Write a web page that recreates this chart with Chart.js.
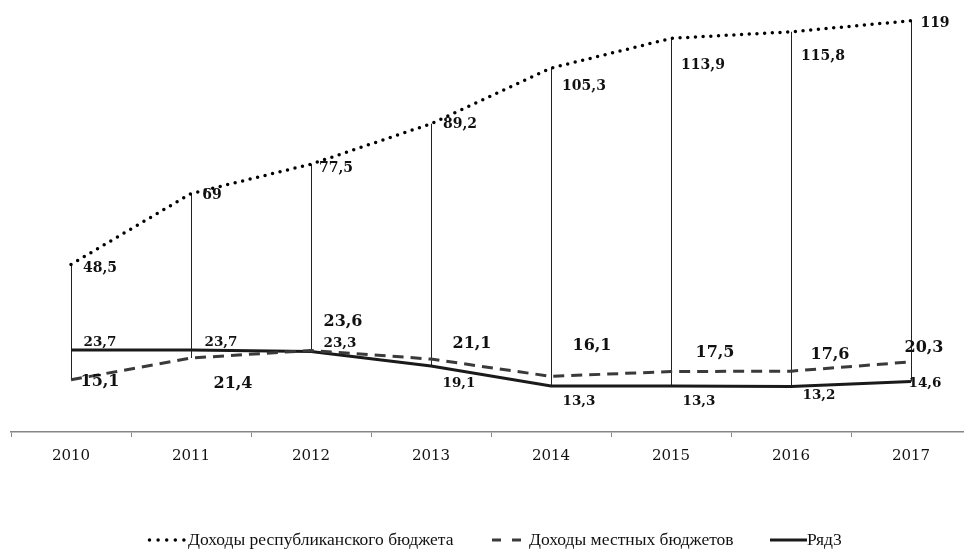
<!DOCTYPE html>
<html>
<head>
<meta charset="utf-8">
<script src="https://cdn.jsdelivr.net/npm/chart.js@4.4.1/dist/chart.umd.min.js"></script>
<style>
  html, body { margin: 0; padding: 0; background: #fff; overflow: hidden; }
  #wrap { position: relative; width: 980px; height: 550px; }
</style>
</head>
<body>
<div id="wrap"><canvas id="c"></canvas></div>
<script>
const categories = ['2010', '2011', '2012', '2013', '2014', '2015', '2016', '2017'];
const republicanIncome = [48.5, 69, 77.5, 89.2, 105.3, 113.9, 115.8, 119];
const localIncome = [15.1, 21.4, 23.6, 21.1, 16.1, 17.5, 17.6, 20.3];
const series3 = [23.7, 23.7, 23.3, 19.1, 13.3, 13.3, 13.2, 14.6];
const seriesNames = ['Доходы республиканского бюджета', 'Доходы местных бюджетов', 'Ряд3'];

// label offsets (px) relative to each point, as placed in the original
const labelOffsets = [
  [[29,4],[21,2],[25,4],[29,1],[33,18],[32,27],[32,25],[24,3]],
  [[29,2],[42,26],[32,-29],[41,-15],[41,-31],[44,-19],[39,-16],[13,-14]],
  [[29,-8],[30,-8],[29,-8],[28,18],[28,15],[28,15],[28,9],[14,2]]
];
const labelFonts = ['bold 14px "DejaVu Serif"', 'bold 16px "DejaVu Serif"', 'bold 13.5px "DejaVu Serif"'];

const fmt = v => String(v).replace('.', ',');

const hiLoPlugin = {
  id: 'hiLo',
  beforeDatasetsDraw(chart) {
    const ctx = chart.ctx;
    const y = chart.scales.y;
    ctx.save();
    ctx.strokeStyle = '#222';
    ctx.lineWidth = 1;
    categories.forEach((c, i) => {
      const vals = chart.data.datasets.map(d => d.data[i]);
      const x = Math.round(chart.getDatasetMeta(0).data[i].x) + 0.5;
      ctx.beginPath();
      ctx.moveTo(x, y.getPixelForValue(Math.max(...vals)));
      ctx.lineTo(x, y.getPixelForValue(Math.min(...vals)));
      ctx.stroke();
    });
    ctx.restore();
  }
};

const labelPlugin = {
  id: 'valLabels',
  afterDatasetsDraw(chart) {
    const ctx = chart.ctx;
    ctx.save();
    ctx.textAlign = 'center';
    ctx.textBaseline = 'middle';
    ctx.fillStyle = '#111';
    chart.data.datasets.forEach((ds, di) => {
      const meta = chart.getDatasetMeta(di);
      ctx.font = labelFonts[di];
      ds.data.forEach((v, i) => {
        const p = meta.data[i];
        const o = labelOffsets[di][i];
        ctx.fillText(fmt(v), p.x + o[0], p.y + o[1]);
      });
    });
    ctx.restore();
  }
};

// legend drawn with the original's item positions
const legendPlugin = {
  id: 'customLegend',
  afterDraw(chart) {
    const ctx = chart.ctx;
    const yc = 540;
    const starts = [148, 492, 770];
    const sampleLen = [37, 30, 37];
    const textX = [188, 529, 807];
    const dashes = [[0, 8.6], [9, 11], []];
    ctx.save();
    ctx.font = '17.5px "Liberation Serif"';
    ctx.textBaseline = 'middle';
    ctx.fillStyle = '#111';
    chart.data.datasets.forEach((ds, di) => {
      const x = starts[di];
      ctx.save();
      ctx.strokeStyle = ds.borderColor;
      ctx.lineWidth = ds.borderWidth;
      ctx.lineCap = ds.borderCapStyle || 'butt';
      ctx.setLineDash(dashes[di]);
      ctx.beginPath();
      ctx.moveTo(x + (di === 0 ? 1.5 : 0), yc);
      ctx.lineTo(x + sampleLen[di], yc);
      ctx.stroke();
      ctx.restore();
      ctx.fillText(ds.label, textX[di], yc);
    });
    ctx.restore();
  }
};

new Chart(document.getElementById('c'), {
  type: 'line',
  data: {
    labels: categories,
    datasets: [
      { label: seriesNames[0], data: republicanIncome, borderColor: '#000', borderWidth: 3.5,
        borderDash: [0, 7.7], borderCapStyle: 'round', pointRadius: 0, tension: 0, fill: false },
      { label: seriesNames[1], data: localIncome, borderColor: '#3a3a3a', borderWidth: 3,
        borderDash: [11, 7], borderCapStyle: 'butt', pointRadius: 0, tension: 0, fill: false },
      { label: seriesNames[2], data: series3, borderColor: '#1a1a1a', borderWidth: 3,
        borderCapStyle: 'butt', pointRadius: 0, tension: 0, fill: false }
    ]
  },
  options: {
    responsive: true,
    maintainAspectRatio: false,
    animation: false,
    layout: { padding: { left: 11, right: 9, top: 0, bottom: 0 } },
    plugins: { legend: { display: false }, tooltip: { enabled: false } },
    scales: {
      x: {
        type: 'category',
        offset: true,
        grid: { display: true, offset: true, drawOnChartArea: false, drawTicks: true, tickLength: 5, color: '#868686', lineWidth: 1 },
        border: { display: true, color: '#868686', width: 1.5 },
        ticks: { color: '#111', font: { family: 'DejaVu Serif', size: 15 }, padding: 10, maxRotation: 0 },
        afterFit(scale) { scale.height = 118; }
      },
      y: { display: false, min: 0, max: 125 }
    }
  },
  plugins: [hiLoPlugin, labelPlugin, legendPlugin]
});
</script>
</body>
</html>
